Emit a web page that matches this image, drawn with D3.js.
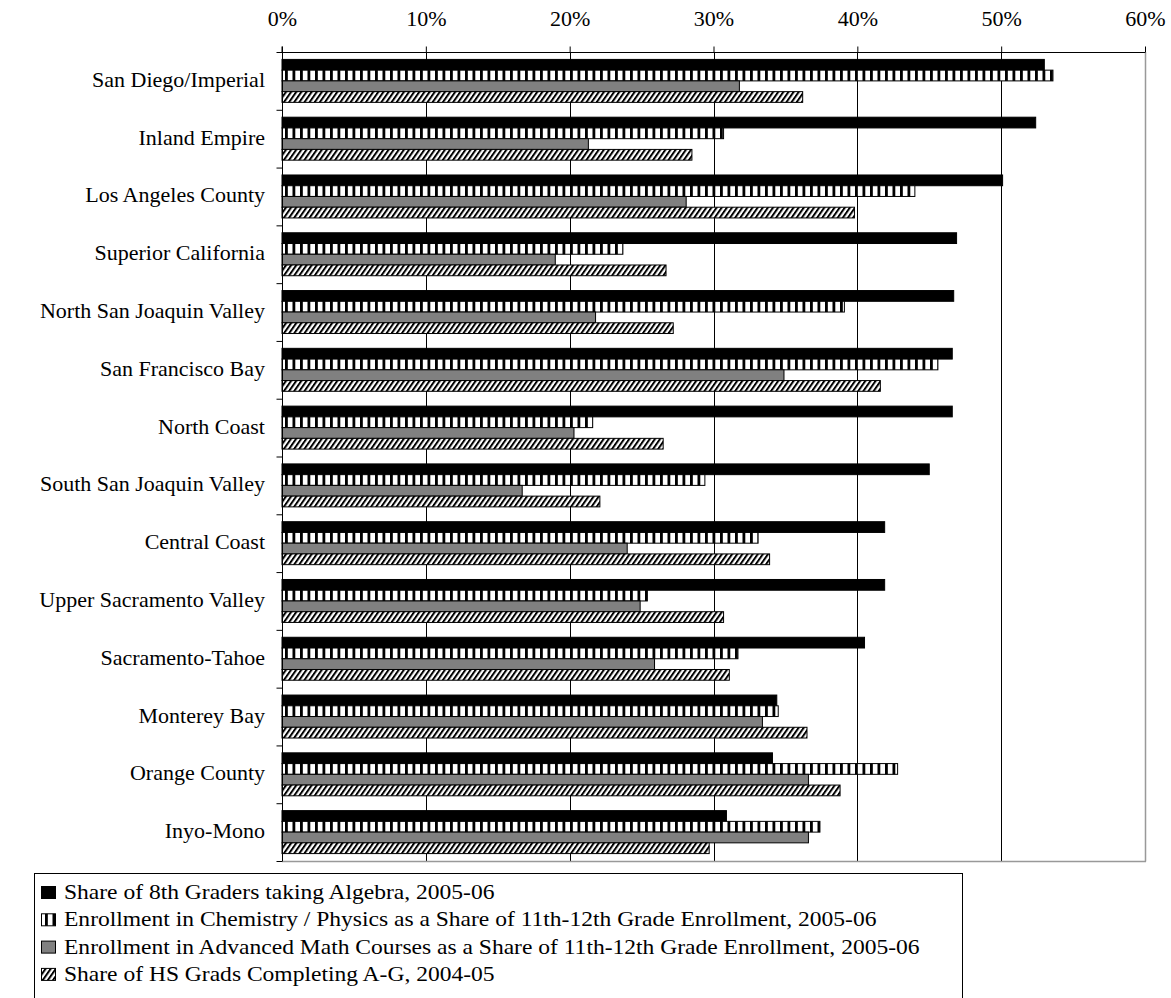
<!DOCTYPE html>
<html>
<head>
<meta charset="utf-8">
<script src="https://cdn.jsdelivr.net/npm/d3@7"></script>
<style>
  html, body { margin: 0; padding: 0; background: #fff; }
  svg { display: block; }
  text { font-family: "Liberation Serif", "Times New Roman", serif; fill: #000; }
</style>
</head>
<body>
<svg id="chart" width="1171" height="998"></svg>
<script>
// Regions, ordered as listed on the chart
const categories = [
  "San Diego/Imperial", "Inland Empire", "Los Angeles County", "Superior California",
  "North San Joaquin Valley", "San Francisco Bay", "North Coast", "South San Joaquin Valley",
  "Central Coast", "Upper Sacramento Valley", "Sacramento-Tahoe", "Monterey Bay",
  "Orange County", "Inyo-Mono"
];

// Series values, in percent
const algebra8th = [53.0, 52.4, 50.1, 46.9, 46.7, 46.6, 46.6, 45.0, 41.9, 41.9, 40.5, 34.4, 34.1, 30.9];
const chemPhysics = [53.6, 30.7, 44.0, 23.7, 39.1, 45.6, 21.6, 29.4, 33.1, 25.4, 31.7, 34.5, 42.8, 37.4];
const advancedMath = [31.8, 21.3, 28.1, 19.0, 21.8, 34.9, 20.3, 16.7, 24.0, 24.9, 25.9, 33.4, 36.6, 36.6];
const completingAG = [36.2, 28.5, 39.8, 26.7, 27.2, 41.6, 26.5, 22.1, 33.9, 30.7, 31.1, 36.5, 38.8, 29.7];

const seriesNames = [
  "Share of 8th Graders taking Algebra, 2005-06",
  "Enrollment in Chemistry / Physics as a Share of 11th-12th Grade Enrollment, 2005-06",
  "Enrollment in Advanced Math Courses as a Share of 11th-12th Grade Enrollment, 2005-06",
  "Share of HS Grads Completing A-G, 2004-05"
];

const tickValues = [0, 10, 20, 30, 40, 50, 60];

const seriesValues = [algebra8th, chemPhysics, advancedMath, completingAG];
const seriesFills = ["#000", "url(#vstripe)", "#808080", "url(#hatch)"];

const svg = d3.select("#chart");
svg.append("rect").attr("width", 1171).attr("height", 998).attr("fill", "#fff");

// Fill patterns
const defs = svg.append("defs");
const vs = defs.append("pattern").attr("id", "vstripe")
  .attr("patternUnits", "userSpaceOnUse").attr("width", 7.5).attr("height", 10);
vs.append("rect").attr("width", 7.5).attr("height", 10).attr("fill", "#fff");
vs.append("rect").attr("x", 0).attr("width", 2.8).attr("height", 10).attr("fill", "#000");

const hp = defs.append("pattern").attr("id", "hatch")
  .attr("patternUnits", "userSpaceOnUse").attr("width", 4.2).attr("height", 10)
  .attr("patternTransform", "rotate(35)");
hp.append("rect").attr("width", 4.2).attr("height", 10).attr("fill", "#fff");
hp.append("rect").attr("width", 2).attr("height", 10).attr("fill", "#000");

// Plot area
const plotLeft = 282, plotRight = 1145, plotTop = 52, plotBottom = 861;

const x = d3.scaleLinear().domain([0, 60]).range([plotLeft, plotRight]);
const y = d3.scaleBand().domain(categories).range([plotTop, plotBottom]).padding(0);
const bw = y.bandwidth();
const gapRatio = 1.38;
const barH = bw / (4 + gapRatio);
const yInner = d3.scaleBand().domain(d3.range(4))
  .range([barH * gapRatio / 2, bw - barH * gapRatio / 2]).padding(0);

// Vertical gridlines
svg.append("g").selectAll("line").data(tickValues.slice(0, -1)).join("line")
  .attr("x1", d => Math.round(x(d)) + 0.5).attr("x2", d => Math.round(x(d)) + 0.5)
  .attr("y1", plotTop).attr("y2", plotBottom)
  .attr("stroke", "#000").attr("stroke-width", 1);

// Right and bottom frame
svg.append("line").attr("x1", Math.round(plotRight) + 0.5).attr("x2", Math.round(plotRight) + 0.5)
  .attr("y1", plotTop).attr("y2", plotBottom + 0.5).attr("stroke", "#999").attr("stroke-width", 1.5);
svg.append("line").attr("x1", plotLeft).attr("x2", plotRight + 1)
  .attr("y1", plotBottom + 0.5).attr("y2", plotBottom + 0.5).attr("stroke", "#999").attr("stroke-width", 1.5);

// Bars
const groups = svg.append("g").selectAll("g").data(categories).join("g")
  .attr("transform", c => `translate(0,${y(c)})`);
groups.each(function(c, ci) {
  d3.select(this).selectAll("rect").data(seriesValues.map((s, si) => ({ si, v: s[ci] }))).join("rect")
    .attr("x", x(0))
    .attr("y", d => yInner(d.si))
    .attr("width", d => x(d.v) - x(0))
    .attr("height", yInner.bandwidth())
    .attr("fill", d => seriesFills[d.si])
    .attr("stroke", "#000").attr("stroke-width", 1);
});

// Top axis with percentage labels
const xAxis = d3.axisTop(x).tickValues(tickValues).tickFormat(d => d + "%")
  .tickSize(6).tickPadding(21);
const gx = svg.append("g").attr("transform", `translate(0,${plotTop + 0.5})`).call(xAxis);
gx.selectAll("text").attr("font-size", 22).attr("font-family", "Liberation Serif, serif");
gx.selectAll("line, path").attr("stroke", "#000");
gx.select(".domain").attr("d", `M${plotLeft},-6V0H${plotRight}`);

// Left axis: ticks on category boundaries
const yIdx = d3.scaleLinear().domain([0, categories.length]).range([plotTop, plotBottom]);
const yAxis = d3.axisLeft(yIdx).tickValues(d3.range(categories.length + 1)).tickFormat("").tickSize(6);
const gy = svg.append("g").attr("transform", `translate(${plotLeft + 0.5},0)`).call(yAxis);
gy.selectAll("line, path").attr("stroke", "#000");
gy.select(".domain").attr("d", `M0,${plotTop}V${plotBottom}`);

// Category labels
svg.append("g").selectAll("text").data(categories).join("text")
  .attr("x", 265).attr("y", c => y(c) + bw / 2 + 6)
  .attr("text-anchor", "end").attr("font-size", 22)
  .text(c => c);

// Legend
const lg = svg.append("g");
lg.append("rect").attr("x", 34.5).attr("y", 873.5).attr("width", 928).attr("height", 160)
  .attr("fill", "#fff").attr("stroke", "#000").attr("stroke-width", 1);
const rows = lg.selectAll("g").data(seriesNames).join("g")
  .attr("transform", (d, i) => `translate(0,${899 + i * 27.3})`);
rows.append("rect").attr("x", 41.5).attr("y", -12.5).attr("width", 14).attr("height", 12)
  .attr("fill", (d, i) => seriesFills[i]).attr("stroke", "#000").attr("stroke-width", 1);
rows.append("text").attr("transform", "translate(64,0) scale(1.07,1)")
  .attr("font-size", 22).text(d => d);
</script>
</body>
</html>
